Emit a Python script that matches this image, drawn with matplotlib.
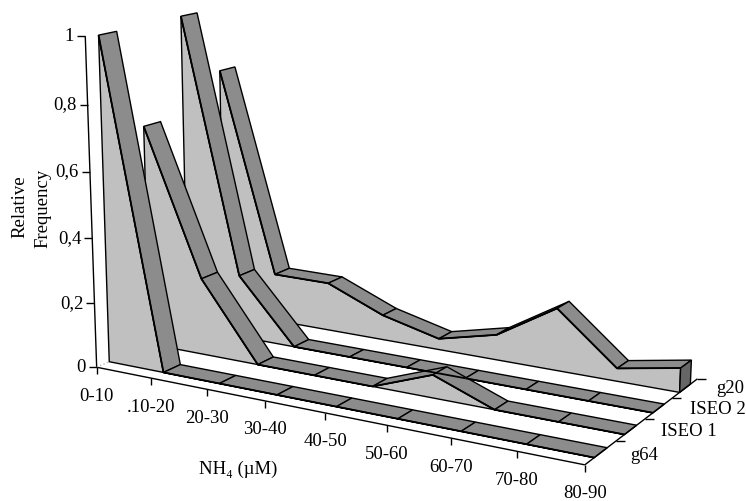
import numpy as np
import matplotlib
matplotlib.use('Agg')
import matplotlib.pyplot as plt

plt.rcParams['font.family'] = ['Liberation Serif', 'DejaVu Serif']

# data
categories = ['0-10', '.10-20', '20-30', '30-40', '40-50', '50-60', '60-70', '70-80', '80-90']
series_names = ['g64', 'ISEO 1', 'ISEO 2', 'g20']
g64 = [0.995, 0, 0, 0, 0, 0, 0, 0, 0]
iseo1 = [0.69, 0.24, 0, 0, 0, 0.07, 0, 0, 0]
iseo2 = [1.0, 0.20, 0, 0, 0, 0, 0, 0, 0]
g20 = [0.80, 0.155, 0.155, 0.08, 0.035, 0.08, 0.195, 0.04, 0.075]
series_values = [g64, iseo1, iseo2, g20]
y_ticks = [0, 0.2, 0.4, 0.6, 0.8, 1]
y_ticklabels = ['0', '0,2', '0,4', '0,6', '0,8', '1']

# ribbon sits inside each depth slot
D0, D1 = 0.3, 0.72

# frame of the 3d box: (category, depth, value) -> pixel, for the perspective fit
frame = [
    (0, 0, 0, 97, 368), (1, 0, 0, 152, 379), (2, 0, 0, 206, 390), (3, 0, 0, 265, 402),
    (4, 0, 0, 324, 414), (5, 0, 0, 387, 426), (6, 0, 0, 451, 439), (7, 0, 0, 516, 452),
    (8, 0, 0, 585, 466), (8, 1, 0, 616, 443), (8, 2, 0, 645, 420), (8, 3, 0, 668, 400),
    (8, 4, 0, 695, 380), (0, 0, 0.2, 94.5, 304), (0, 0, 0.4, 93, 239), (0, 0, 0.6, 90, 173),
    (0, 0, 0.8, 87.5, 106), (0, 0, 1, 85, 37), (0, 0.3, 0, 110, 364), (1, 0.3, 0, 163, 374),
    (2, 1.3, 0, 257, 366), (2, 2.3, 0, 293, 347), (8, 0.3, 0, 593, 458), (8, 1.3, 0, 623, 436),
    (8, 2.3, 0, 653, 414), (8, 3.3, 0, 683, 393), (7, 1.3, 0, 561, 423), (6, 1.3, 0, 495, 409),
    (7, 2.3, 0, 591, 402), (6, 2.3, 0, 528, 390), (7, 0.3, 0, 528, 445), (6, 0.3, 0, 461, 433),
    (5, 0.3, 0, 398, 419), (8, 0.72, 0, 606, 449), (8, 1.72, 0, 636, 427), (8, 2.72, 0, 665, 405),
]

rows, rhs = [], []
for c, d, v, px, py in frame:
    rows.append([c, d, v, 1, 0, 0, 0, 0, -px * c, -px * d, -px * v])
    rhs.append(px)
    rows.append([0, 0, 0, 0, c, d, v, 1, -py * c, -py * d, -py * v])
    rhs.append(py)
h = np.linalg.lstsq(np.array(rows, float), np.array(rhs, float), rcond=None)[0]
H = np.append(h, 1).reshape(3, 4)


def proj(c, d, v):
    x, y, w = H @ np.array([c, d, v, 1.0])
    return x / w, y / w


fig = plt.figure(figsize=(7.46, 5.02), dpi=100)
ax = fig.add_axes([0, 0, 1, 1])
ax.set_xlim(0, 746)
ax.set_ylim(502, 0)
ax.axis('off')

wall_col = '#c0c0c0'
ribbon_col = '#8c8c8c'
cap_col = '#666666'
lw = 1.0
fs = 13.5
n = len(categories)

# axis lines
def line(p, q, **kw):
    ax.plot([p[0], q[0]], [p[1], q[1]], color=kw.pop('color', 'k'), lw=kw.pop('lw', lw),
            solid_capstyle='butt', **kw)

line(proj(0, 0, 1), proj(0, 0, 0))
line(proj(0, 0, 0), proj(n - 1, 0, 0))
line(proj(n - 1, 0, 0), proj(n - 1, 4, 0))
line(proj(0, 0, 0), proj(0, D0, 0), color='#bbbbbb', ls=':')

for t, lab in zip(y_ticks, y_ticklabels):
    x, y = proj(0, 0, t)
    line((x - 8, y), (x, y))
    ax.text(x - 11, y - 1, lab, ha='right', va='center', fontsize=fs)

for i, lab in enumerate(categories):
    x, y = proj(i, 0, 0)
    line((x, y), (x, y + 7))
    ax.text(x, y + 28, lab, ha='center', va='center', fontsize=fs)

# labels hang off the depth ticks
label_dx = [15, 16, 18, 19]
label_dy = [13, 11, 10, 9]
for k, lab in enumerate(series_names):
    x, y = proj(n - 1, k + 1, 0)
    line((x, y), (x + 9, y))
    ax.text(x + label_dx[k], y + label_dy[k], lab, ha='left', va='center', fontsize=fs)

ax.text(20, 207, 'Relative', rotation=90, ha='center', va='center', fontsize=fs)
ax.text(43, 208, 'Frequency', rotation=90, ha='center', va='center', fontsize=fs)
ax.text(238, 469, 'NH\u2084 (\u00b5M)', ha='center', va='center', fontsize=fs)

# back to front, each series: wall, then ribbon, then the end cap
for k in range(len(series_values) - 1, -1, -1):
    vals = series_values[k]
    d0, d1 = k + D0, k + D1
    top = [proj(i, d0, vals[i]) for i in range(n)]
    base = [proj(i, d0, 0) for i in range(n)]
    ax.fill(*zip(*(top + base[::-1])), facecolor=wall_col, edgecolor='k', lw=lw, joinstyle='miter')
    for i in range(n - 1):
        quad = [proj(i, d0, vals[i]), proj(i + 1, d0, vals[i + 1]),
                proj(i + 1, d1, vals[i + 1]), proj(i, d1, vals[i])]
        ax.fill(*zip(*quad), facecolor=ribbon_col, edgecolor='k', lw=lw, joinstyle='miter')
        line(quad[0], quad[1], lw=1.3)
    if vals[-1] > 0:
        cap = [proj(n - 1, d0, vals[-1]), proj(n - 1, d1, vals[-1]),
               proj(n - 1, d1, 0), proj(n - 1, d0, 0)]
        ax.fill(*zip(*cap), facecolor=cap_col, edgecolor='k', lw=lw, joinstyle='miter')

plt.savefig('out.png', dpi=100)
